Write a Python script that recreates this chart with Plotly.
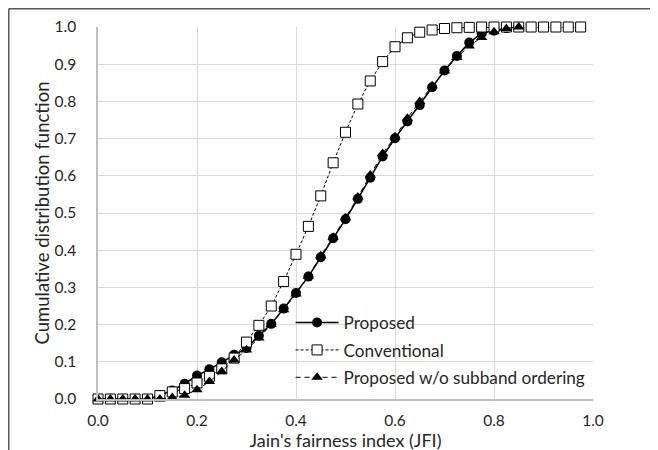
import plotly.graph_objects as go

x_prop = [round(i * 0.025, 3) for i in range(35)]  # 0.0 .. 0.85
x_conv = [round(i * 0.025, 3) for i in range(40)]  # 0.0 .. 0.975

proposed = [0, 0, 0, 0, 0, 0.01, 0.023, 0.041, 0.063, 0.08, 0.099, 0.119, 0.137,
            0.17, 0.202, 0.243, 0.285, 0.329, 0.381, 0.432, 0.483, 0.538, 0.595,
            0.652, 0.701, 0.746, 0.790, 0.838, 0.883, 0.922, 0.958, 0.983, 0.99,
            0.997, 1.0]
conventional = [0, 0, 0, 0, 0, 0.009, 0.019, 0.028, 0.043, 0.061, 0.081, 0.11,
                0.153, 0.198, 0.25, 0.316, 0.389, 0.464, 0.546, 0.635, 0.717,
                0.793, 0.855, 0.907, 0.947, 0.971, 0.986, 0.992, 0.996, 0.998,
                0.999, 1.0, 1.0, 1.0, 1.0, 1.0, 1.0, 1.0, 1.0, 1.0]
no_ordering = [0, 0, 0, 0, 0, 0, 0.004, 0.01, 0.025, 0.047, 0.074, 0.105, 0.132,
               0.164, 0.2, 0.24, 0.282, 0.33, 0.385, 0.435, 0.487, 0.543, 0.602,
               0.66, 0.705, 0.755, 0.80, 0.842, 0.882, 0.918, 0.949, 0.972,
               0.987, 0.996, 1.0]

names = ["Proposed", "Conventional", "Proposed w/o subband ordering"]

FONT = "Lato, 'Open Sans', sans-serif"

# page body has an 8px margin, so the figure origin sits at (8, 8) on the page
L, T, R, B = 90, 19, 73, 59
W, H = 658, 450
PW = W - L - R
PH = H - T - B

fig = go.Figure()
fig.add_trace(go.Scatter(
    x=x_prop, y=proposed, name=names[0], mode="lines+markers", legendgroup="a",
    line=dict(color="black", width=1.5),
    marker=dict(symbol="circle", size=10, color="black"),
    cliponaxis=False))
fig.add_trace(go.Scatter(
    x=x_conv, y=conventional, name=names[1], mode="lines+markers", legendgroup="b",
    line=dict(color="black", width=1, dash="3px,2px"),
    marker=dict(symbol="square", size=10, color="white",
                line=dict(color="black", width=1)),
    cliponaxis=False))
fig.add_trace(go.Scatter(
    x=x_prop, y=no_ordering, name=names[2], mode="lines+markers", legendgroup="c",
    line=dict(color="black", width=1, dash="5px,4px"),
    marker=dict(symbol="triangle-up", size=10, color="black"),
    cliponaxis=False))

fig.update_layout(
    width=W, height=H,
    margin=dict(l=L, r=R, t=T, b=B),
    paper_bgcolor="white", plot_bgcolor="white",
    font=dict(family=FONT, color="#262626", size=15),
    showlegend=True,
    legend=dict(x=0.389, y=0.253, xanchor="left", yanchor="top",
                bgcolor="rgba(0,0,0,0)", font=dict(size=17.2, color="#262626"),
                tracegroupgap=2, itemwidth=43, traceorder="grouped"),
    xaxis=dict(range=[0, 1], dtick=0.2, tick0=0, tickformat=".1f",
               showgrid=True, gridcolor="#d9d9d9", gridwidth=1,
               showline=True, linecolor="#bfbfbf", linewidth=1.5,
               zeroline=False, ticks="", ticklabelstandoff=7, automargin=False,
               title=dict(text="Jain's fairness index (JFI)", font=dict(size=18), standoff=0),
               tickfont=dict(size=15.5)),
    yaxis=dict(range=[0, 1], dtick=0.1, tick0=0, tickformat=".1f",
               showgrid=True, gridcolor="#d9d9d9", gridwidth=1,
               showline=True, linecolor="#bfbfbf", linewidth=1.5,
               zeroline=False, ticks="", ticklabelstandoff=17, automargin=False,
               title=dict(text="Cumulative distribution function", font=dict(size=18.5), standoff=0),
               tickfont=dict(size=15.5)),
)

# outer chart frame (top and left edges visible in the reference)
fx = (0.75 - L) / PW
fy = 1 + (T - 0.75) / PH
fig.add_shape(type="line", xref="paper", yref="paper",
              x0=fx, x1=(W + 20 - L) / PW, y0=fy, y1=fy,
              line=dict(color="#595959", width=1.5))
fig.add_shape(type="line", xref="paper", yref="paper",
              x0=fx, x1=fx, y0=fy, y1=-0.5,
              line=dict(color="#595959", width=1.5))

fig.write_html("out.html")
